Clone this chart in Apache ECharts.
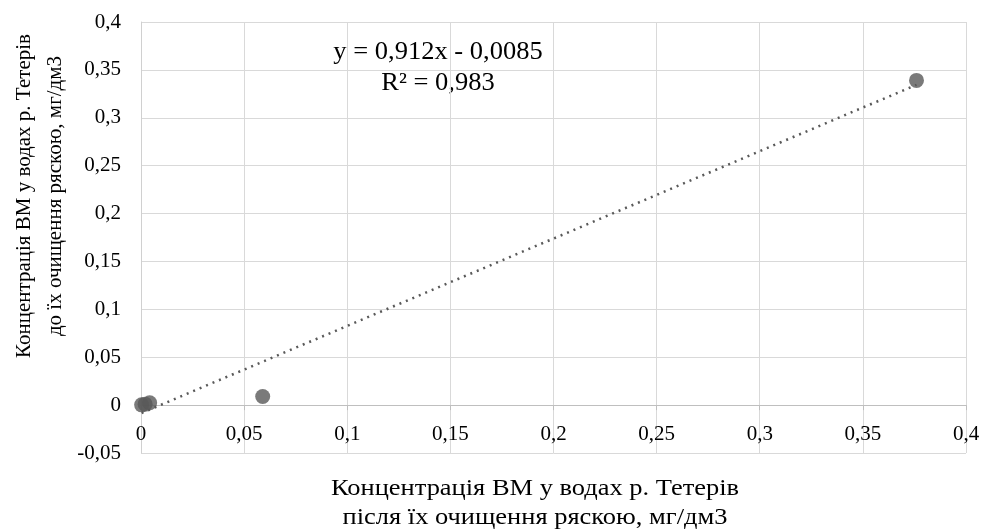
<!DOCTYPE html>
<html><head><meta charset="utf-8">
<script src="https://cdn.jsdelivr.net/npm/echarts@6/dist/echarts.min.js"></script>
<style>html,body{margin:0;padding:0;background:#fff}#c{width:984px;height:532px}</style>
</head><body><div id="c"></div>
<script>
// Data (mg/dm3)
const xValues = [0.0003, 0.002, 0.0042, 0.059, 0.376];
const yValues = [0.0003, 0.001, 0.0025, 0.009, 0.339];
const trendSlope = 0.912;
const trendIntercept = -0.0085;
const equationText = ['y = 0,912x - 0,0085', 'R² = 0,983'];
const xTitle = ['Концентрація ВМ у водах р. Тетерів', 'після їх очищення ряскою, мг/дм3'];
const yTitle = ['Концентрація ВМ у водах р. Тетерів', 'до їх очищення ряскою, мг/дм3'];

const points = xValues.map((x, i) => [x, yValues[i]]);
const xMin = Math.min(...xValues), xMax = Math.max(...xValues);
const trend = [[xMin, trendSlope * xMin + trendIntercept], [xMax, trendSlope * xMax + trendIntercept]];

const font = '"Liberation Serif","Times New Roman",serif';
const fmt = v => { const r = Math.round(v * 100) / 100; return String(r).replace('.', ','); };

const chart = echarts.init(document.getElementById('c'), null, {renderer: 'canvas'});
chart.setOption({
  animation: false,
  grid: {left: 141, right: 18, top: 22, bottom: 79},
  xAxis: {
    type: 'value', min: 0, max: 0.4, interval: 0.05,
    axisLine: {show: true, onZero: true, lineStyle: {color: '#bfbfbf', width: 1}},
    axisTick: {show: true, length: 5, lineStyle: {color: '#bfbfbf'}},
    axisLabel: {formatter: fmt, fontFamily: font, fontSize: 21, color: '#000', margin: -29},
    splitLine: {show: true, lineStyle: {color: '#d9d9d9', width: 1}}
  },
  yAxis: {
    type: 'value', min: -0.05, max: 0.4, interval: 0.05,
    axisLine: {show: true, onZero: false, lineStyle: {color: '#d0d0d0', width: 1}},
    axisTick: {show: false},
    axisLabel: {formatter: fmt, fontFamily: font, fontSize: 21, color: '#000', margin: 20},
    splitLine: {show: true, lineStyle: {color: '#d9d9d9', width: 1}}
  },
  graphic: [
    {type: 'text', x: 40, y: 196, rotation: Math.PI / 2, style: {
      text: yTitle.join('\n'), font: '21px ' + font, fill: '#000',
      align: 'center', verticalAlign: 'middle', lineHeight: 31}},
    {type: 'text', x: 535, y: 503, scaleX: 1.15, style: {
      text: xTitle.join('\n'), font: '23px ' + font, fill: '#000',
      align: 'center', verticalAlign: 'middle', lineHeight: 29}},
    {type: 'text', x: 438, y: 68, scaleX: 1.06, style: {
      text: equationText.join('\n'), font: '25px ' + font, fill: '#000',
      align: 'center', verticalAlign: 'middle', lineHeight: 31.5}}
  ],
  series: [
    {type: 'line', data: trend, symbol: 'none', silent: true,
      lineStyle: {color: '#595959', width: 2.5, type: [2, 5]}, z: 2},
    {type: 'scatter', data: points, symbolSize: 15,
      itemStyle: {color: '#595959'}, z: 3}
  ]
});
</script></body></html>
